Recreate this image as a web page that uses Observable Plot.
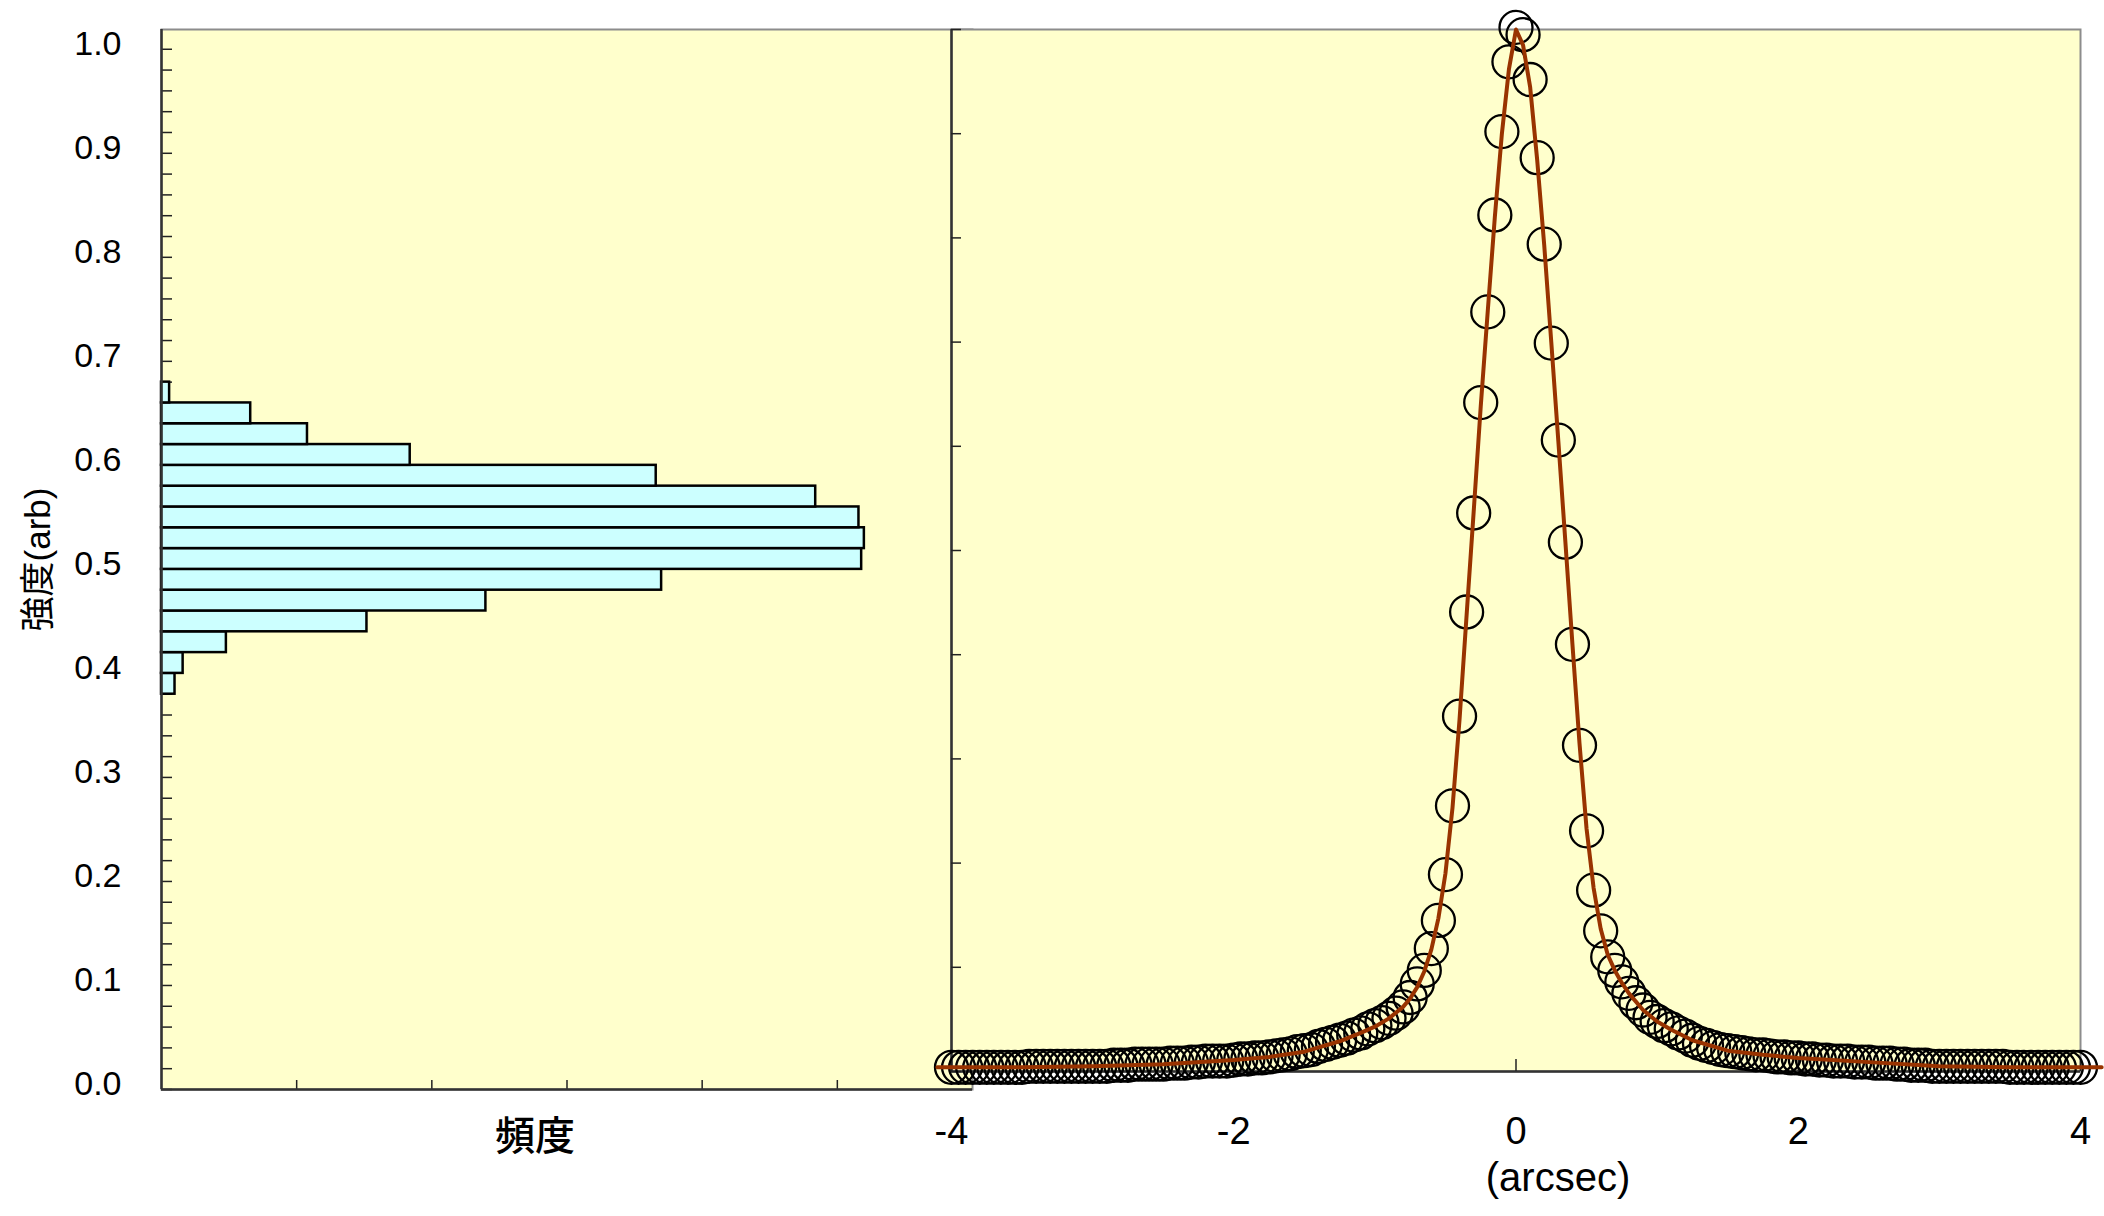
<!DOCTYPE html>
<html>
<head>
<meta charset="utf-8">
<script src="https://cdn.jsdelivr.net/npm/d3@7"></script>
<script src="https://cdn.jsdelivr.net/npm/@observablehq/plot@0.6"></script>
<style>
  html, body { margin: 0; padding: 0; background: #ffffff; }
  #chart { position: relative; width: 2104px; height: 1216px; overflow: hidden; }
  #chart svg { position: absolute; left: 0; top: 0; }
</style>
</head>
<body>
<div id="chart"></div>
<script>
// ---------- data ----------
// histogram (left panel): bin edges of intensity and counts per bin
const binEdges = [0.38, 0.40, 0.42, 0.44, 0.46, 0.48, 0.50, 0.52, 0.54, 0.56, 0.58, 0.60, 0.62, 0.64, 0.66, 0.68];
const binCounts = [5, 8, 24, 76, 120, 185, 259, 260, 258, 242, 183, 92, 54, 33, 3];

// profile (right panel): measured points
const profileX = [
  -4, -3.95, -3.9, -3.85, -3.8, -3.75, -3.7, -3.65, -3.6, -3.55, -3.5, -3.45, -3.4, -3.35, -3.3, -3.25, -3.2, -3.15, -3.1, -3.05,
  -3, -2.95, -2.9, -2.85, -2.8, -2.75, -2.7, -2.65, -2.6, -2.55, -2.5, -2.45, -2.4, -2.35, -2.3, -2.25, -2.2, -2.15, -2.1, -2.05,
  -2, -1.95, -1.9, -1.85, -1.8, -1.75, -1.7, -1.65, -1.6, -1.55, -1.5, -1.45, -1.4, -1.35, -1.3, -1.25, -1.2, -1.15, -1.1, -1.05,
  -1, -0.95, -0.9, -0.85, -0.8, -0.75, -0.7, -0.65, -0.6, -0.55, -0.5, -0.45, -0.4, -0.35, -0.3, -0.25, -0.2, -0.15, -0.1, -0.05,
  0,
  0.05, 0.1, 0.15, 0.2, 0.25, 0.3, 0.35, 0.4, 0.45, 0.5, 0.55, 0.6, 0.65, 0.7, 0.75, 0.8, 0.85, 0.9, 0.95, 1,
  1.05, 1.1, 1.15, 1.2, 1.25, 1.3, 1.35, 1.4, 1.45, 1.5, 1.55, 1.6, 1.65, 1.7, 1.75, 1.8, 1.85, 1.9, 1.95, 2,
  2.05, 2.1, 2.15, 2.2, 2.25, 2.3, 2.35, 2.4, 2.45, 2.5, 2.55, 2.6, 2.65, 2.7, 2.75, 2.8, 2.85, 2.9, 2.95, 3,
  3.05, 3.1, 3.15, 3.2, 3.25, 3.3, 3.35, 3.4, 3.45, 3.5, 3.55, 3.6, 3.65, 3.7, 3.75, 3.8, 3.85, 3.9, 3.95, 4
];
const profileY = [
  0.004, 0.004, 0.004, 0.004, 0.004, 0.004, 0.004, 0.004, 0.004, 0.004, 0.004, 0.005, 0.005, 0.005, 0.005, 0.005, 0.005, 0.005, 0.005, 0.005,
  0.005, 0.005, 0.005, 0.006, 0.006, 0.006, 0.007, 0.007, 0.007, 0.007, 0.007, 0.008, 0.008, 0.008, 0.009, 0.009, 0.010, 0.010, 0.010, 0.010,
  0.011, 0.012, 0.012, 0.013, 0.013, 0.014, 0.015, 0.016, 0.017, 0.019, 0.020, 0.021, 0.024, 0.026, 0.028, 0.030, 0.032, 0.035, 0.037, 0.041,
  0.044, 0.047, 0.051, 0.056, 0.062, 0.071, 0.084, 0.097, 0.118, 0.145, 0.189, 0.255, 0.341, 0.441, 0.536, 0.642, 0.729, 0.822, 0.902, 0.969,
  1.002,
  0.995, 0.952, 0.877, 0.794, 0.699, 0.606, 0.508, 0.410, 0.313, 0.231, 0.174, 0.135, 0.110, 0.097, 0.086, 0.075, 0.066, 0.059, 0.052, 0.048,
  0.044, 0.041, 0.037, 0.034, 0.030, 0.027, 0.025, 0.023, 0.021, 0.020, 0.019, 0.018, 0.017, 0.016, 0.016, 0.015, 0.014, 0.014, 0.013, 0.013,
  0.012, 0.012, 0.011, 0.011, 0.010, 0.010, 0.010, 0.009, 0.009, 0.009, 0.008, 0.008, 0.008, 0.007, 0.007, 0.006, 0.006, 0.006, 0.005, 0.005,
  0.005, 0.005, 0.005, 0.005, 0.005, 0.005, 0.005, 0.005, 0.005, 0.004, 0.004, 0.004, 0.004, 0.004, 0.004, 0.004, 0.004, 0.004, 0.004, 0.004
];

// fitted curve (right panel)
const fitX = [-4.1, -3.5, -3.0, -2.5, -2.0, -1.75, -1.5, -1.25, -1.1, -1.0, -0.9, -0.8, -0.75, -0.7, -0.65,
  -0.6, -0.55, -0.5, -0.45, -0.4, -0.35, -0.3, -0.25, -0.2, -0.15, -0.1, -0.05, 0, 0.05, 0.1,
  0.15, 0.2, 0.25, 0.3, 0.35, 0.4, 0.45, 0.5, 0.55, 0.6, 0.65, 0.7, 0.75, 0.8, 0.9,
  1.0, 1.1, 1.25, 1.5, 1.75, 2.0, 2.5, 3.0, 3.5, 4.15];
const fitY = [0.004, 0.004, 0.005, 0.007, 0.011, 0.014, 0.019, 0.029, 0.037, 0.043, 0.051, 0.062, 0.070, 0.081, 0.096,
  0.117, 0.147, 0.190, 0.253, 0.338, 0.438, 0.537, 0.638, 0.730, 0.820, 0.900, 0.962, 1.000, 0.985, 0.945,
  0.875, 0.793, 0.700, 0.605, 0.508, 0.410, 0.315, 0.233, 0.176, 0.137, 0.112, 0.097, 0.085, 0.075, 0.059,
  0.048, 0.040, 0.030, 0.020, 0.016, 0.013, 0.009, 0.005, 0.004, 0.004];

// ticks and labels
const leftYLabels = [0, 0.1, 0.2, 0.3, 0.4, 0.5, 0.6, 0.7, 0.8, 0.9, 1.0];
const leftYMinor = d3.range(0, 51).map(i => i / 50);
const countTicks = [50, 100, 150, 200, 250];
const rightYTicks = [0, 0.1, 0.2, 0.3, 0.4, 0.5, 0.6, 0.7, 0.8, 0.9, 1.0];
const rightXTicks = [-4, -2, 0, 2, 4];
const yTitle = "強度(arb)";
const leftXTitle = "頻度";
const rightXTitle = "(arcsec)";

// ---------- build tables ----------
const hist = binCounts.map((c, i) => ({lo: binEdges[i], hi: binEdges[i + 1], count: c}));
const profile = profileX.map((x, i) => ({x, y: profileY[i]}));
const fit = fitX.map((x, i) => ({x, y: fitY[i]}));

const W = 2104, H = 1216;
const FONT = "'Liberation Sans', Arial, 'Noto Sans CJK JP', sans-serif";
const PANEL = "#FFFFCC";
const BAR = "#CCFFFF";
const AXIS = "#333333";
const BORDER = "#8c8c8c";

const left = Plot.plot({
  width: W, height: H,
  marginLeft: 161, marginRight: W - 972, marginTop: 29, marginBottom: H - 1089,
  style: {background: "transparent", fontFamily: FONT, color: "#000"},
  x: {domain: [0, 300]},
  y: {domain: [0, 1.019]},
  marks: [
    Plot.frame({fill: PANEL, stroke: BORDER, strokeWidth: 2}),
    Plot.axisY({ticks: leftYMinor, tickSize: -11, tickFormat: () => "", label: null, stroke: "#222", strokeWidth: 1.5}),
    Plot.axisX({ticks: countTicks, tickSize: -9, tickFormat: () => "", label: null, stroke: "#222", strokeWidth: 1.5}),
    Plot.rectX(hist, {x: "count", y1: "lo", y2: "hi", fill: BAR, stroke: "#000", strokeWidth: 2.5}),
    Plot.ruleX([0], {stroke: AXIS, strokeWidth: 2.5}),
    Plot.ruleY([0], {stroke: AXIS, strokeWidth: 2.5}),
    Plot.axisY({ticks: leftYLabels, tickSize: 0, tickPadding: 40, tickFormat: d => d.toFixed(1), label: null,
      fontSize: 34, fontFamily: FONT, dy: -5, fill: "#000"}),
    Plot.text([yTitle], {frameAnchor: "left", textAnchor: "middle", rotate: -90, dx: -123, fontSize: 35, fontFamily: FONT, fill: "#000"}),
    Plot.text([leftXTitle], {frameAnchor: "bottom", dx: -32, dy: 60, fontSize: 40, fontFamily: FONT, fontWeight: 500, fill: "#000"})
  ]
});

const right = Plot.plot({
  width: W, height: H,
  marginLeft: 951, marginRight: W - 2080, marginTop: 29, marginBottom: H - 1071,
  style: {background: "transparent", fontFamily: FONT, color: "#000"},
  x: {domain: [-4, 4]},
  y: {domain: [0, 1]},
  marks: [
    Plot.frame({fill: PANEL, stroke: BORDER, strokeWidth: 2}),
    Plot.ruleX([-4], {stroke: AXIS, strokeWidth: 2.5}),
    Plot.ruleY([0], {stroke: AXIS, strokeWidth: 2.5}),
    Plot.axisY({ticks: rightYTicks, tickSize: -10, tickFormat: () => "", label: null, stroke: "#222", strokeWidth: 1.5}),
    Plot.axisX({ticks: rightXTicks, tickSize: -12, tickFormat: () => "", label: null, stroke: "#222", strokeWidth: 1.5}),
    Plot.axisX({ticks: rightXTicks, tickSize: 0, tickPadding: 46,
      tickFormat: d => (d < 0 ? "-" + Math.abs(d) : String(d)), label: null,
      fontSize: 38, fontFamily: FONT, fill: "#000"}),
    Plot.dot(profile, {x: "x", y: "y", r: 16.5, stroke: "#000", strokeWidth: 2.3, fill: "none"}),
    Plot.line(fit, {x: "x", y: "y", stroke: "#993300", strokeWidth: 4, curve: "linear"}),
    Plot.text([rightXTitle], {frameAnchor: "bottom", dx: 42, dy: 119, fontSize: 40, fontFamily: FONT, fill: "#000"})
  ]
});

const chart = document.getElementById("chart");
chart.appendChild(left);
chart.appendChild(right);
</script>
</body>
</html>
